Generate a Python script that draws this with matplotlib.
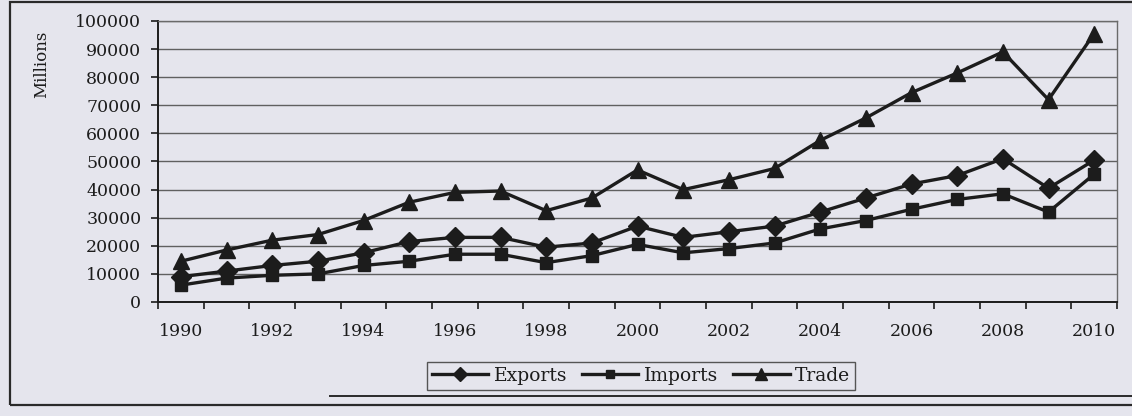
import matplotlib
matplotlib.use("Agg")
import matplotlib.pyplot as plt
from matplotlib.ticker import MultipleLocator, FixedLocator
from matplotlib.lines import Line2D
from matplotlib.patches import Rectangle

years = list(range(1990, 2011))
exports = [9000, 11000, 13000, 14500, 17500, 21500, 23000, 23000, 19500, 21000,
           27000, 23000, 25000, 27000, 32000, 37000, 42000, 45000, 51000, 40500, 50500]
imports = [6000, 8500, 9500, 10000, 13000, 14500, 17000, 17000, 14000, 16500,
           20500, 17500, 19000, 21000, 26000, 29000, 33000, 36500, 38500, 32000, 45500]
trade = [14500, 18500, 22000, 24000, 29000, 35500, 39000, 39500, 32500, 37000,
         47000, 40000, 43500, 47500, 57500, 65500, 74500, 81500, 89000, 72000, 95500]
tick_labels = [str(y) for y in years[::2]]

bg = "#e5e5ed"
ink = "#1c1c1c"
W, H = 1132, 416
fig = plt.figure(figsize=(W / 100, H / 100), dpi=100, facecolor=bg)
font = "DejaVu Serif"

ax = fig.add_axes([158 / W, 1 - 302 / H, (1117 - 158) / W, (302 - 21) / H])
ax.set_facecolor(bg)

x = list(range(len(years)))
ax.plot(x, exports, color=ink, lw=2.4, marker="D", ms=10.5, label="Exports", zorder=3)
ax.plot(x, imports, color=ink, lw=2.4, marker="s", ms=9, label="Imports", zorder=3)
ax.plot(x, trade, color=ink, lw=2.4, marker="^", ms=12, label="Trade", zorder=3)

ax.set_xlim(-0.5, len(years) - 0.5)
ax.set_ylim(0, 100000)
ax.yaxis.set_major_locator(MultipleLocator(10000))
ax.grid(axis="y", color="#606060", lw=1.0)
ax.set_axisbelow(True)

ax.xaxis.set_major_locator(FixedLocator(x[::2]))
ax.set_xticklabels(tick_labels)
ax.xaxis.set_minor_locator(FixedLocator([i - 0.5 for i in range(len(years) + 1)]))
ax.tick_params(axis="x", which="major", length=0, pad=15, labelsize=12.5, labelcolor=ink)
ax.tick_params(axis="x", which="minor", length=5, width=1.2, color=ink, direction="out")
ax.tick_params(axis="y", length=5, width=1.2, color=ink, pad=7, labelsize=12.5, labelcolor=ink)
for lab in ax.get_xticklabels() + ax.get_yticklabels():
    lab.set_fontfamily(font)

for s in ["left", "bottom"]:
    ax.spines[s].set_color(ink)
    ax.spines[s].set_linewidth(1.4)
for s in ["right", "top"]:
    ax.spines[s].set_color("#6a6a6a")
    ax.spines[s].set_linewidth(1.0)

fig.text(42 / W, 1 - 64 / H, "Millions", rotation=90, ha="center", va="center",
         fontsize=12, family=font, color=ink)

leg = fig.legend(loc="center", bbox_to_anchor=(641 / W, 1 - 376 / H), ncol=3,
                 frameon=True, fancybox=False, framealpha=1, handlelength=3.0,
                 handletextpad=0.3, columnspacing=0.8, borderpad=0.25,
                 prop={"family": font, "size": 13.5}, markerscale=0.7)
leg.get_frame().set_edgecolor("#555555")
leg.get_frame().set_facecolor(bg)
leg.get_frame().set_linewidth(1.0)
for t in leg.get_texts():
    t.set_color(ink)

# outer chart frame
fig.add_artist(Rectangle((10 / W, 1 - 405 / H), (W + 20) / W, (405 - 2) / H,
                         transform=fig.transFigure, fill=False, ec="#2a2a2a", lw=1.6))
fig.add_artist(Line2D([330 / W, 1.0], [1 - 396 / H, 1 - 396 / H],
                      transform=fig.transFigure, color="#2a2a2a", lw=1.4))

fig.savefig("out.png", dpi=100, facecolor=bg)
